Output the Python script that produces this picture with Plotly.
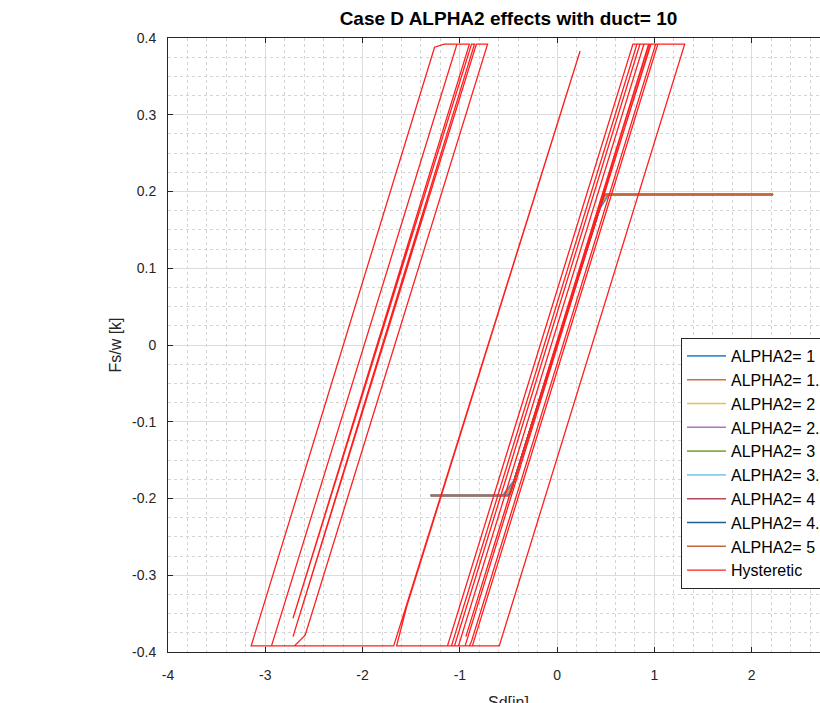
import plotly.graph_objects as go

# ---------------- data ----------------
x_tick_vals = [-4, -3, -2, -1, 0, 1, 2, 3]
x_tick_text = ["-4", "-3", "-2", "-1", "0", "1", "2", "3"]
y_tick_vals = [-0.4, -0.3, -0.2, -0.1, 0, 0.1, 0.2, 0.3, 0.4]
y_tick_text = ["-0.4", "-0.3", "-0.2", "-0.1", "0", "0.1", "0.2", "0.3", "0.4"]

alpha_names = ["ALPHA2= 1", "ALPHA2= 1.5", "ALPHA2= 2", "ALPHA2= 2.5", "ALPHA2= 3",
               "ALPHA2= 3.5", "ALPHA2= 4", "ALPHA2= 4.5", "ALPHA2= 5"]
alpha_colors = ["#3d8fd0", "#c8704a", "#e6be4e", "#b070c4", "#86ac48",
                "#8ccbe8", "#b84858", "#1f5f8f", "#c4663e"]

a1_x = [-1.30, -0.56, -0.440, 0.430, 0.53, 2.22]
a1_y = [-0.196, -0.196, -0.176, 0.176, 0.196, 0.196]
a15_x = [-1.30, -0.54, -0.453, 0.443, 0.52, 2.22]
a15_y = [-0.196, -0.196, -0.181, 0.181, 0.196, 0.196]
a2_x = [-1.30, -0.53, -0.463, 0.453, 0.51, 2.22]
a2_y = [-0.196, -0.196, -0.185, 0.185, 0.196, 0.196]
a25_x = [-1.30, -0.52, -0.470, 0.460, 0.50, 2.22]
a25_y = [-0.196, -0.196, -0.188, 0.188, 0.196, 0.196]
a3_x = [-1.30, -0.51, -0.475, 0.465, 0.50, 2.22]
a3_y = [-0.196, -0.196, -0.190, 0.190, 0.196, 0.196]
a35_x = [-1.30, -0.505, -0.480, 0.470, 0.495, 2.22]
a35_y = [-0.196, -0.196, -0.192, 0.192, 0.196, 0.196]
a4_x = [-1.30, -0.50, -0.483, 0.473, 0.49, 2.22]
a4_y = [-0.196, -0.196, -0.193, 0.193, 0.196, 0.196]
a45_x = [-1.30, -0.495, -0.485, 0.475, 0.485, 2.22]
a45_y = [-0.196, -0.196, -0.194, 0.194, 0.196, 0.196]
a5_x = [-1.30, -0.49, -0.49, 0.48, 0.48, 2.22]
a5_y = [-0.196, -0.196, -0.196, 0.196, 0.196, 0.196]

alpha_x = [a1_x, a15_x, a2_x, a25_x, a3_x, a35_x, a4_x, a45_x, a5_x]
alpha_y = [a1_y, a15_y, a2_y, a25_y, a3_y, a35_y, a4_y, a45_y, a5_y]

hyst_x = [-0.490, 0.965, 1.311, -0.595, -0.902, -0.880, 1.013, 1.035, -0.871, -1.014,
          0.892, 0.940, -0.938, 0.945, 0.960, -0.946, -1.055, 0.851, 0.892, -1.014,
          -1.086, 0.820, 0.851, -1.055, -1.127, 0.779, 0.820, -1.086, -1.650, -1.547,
          0.236, -1.680, -3.145, -1.260, -1.160, -1.030, -2.936, -1.030, -0.902, -2.715,
          -0.880, -0.850, -2.715, -0.830, -0.715, -2.590, -2.700]
hyst_y = [-0.196, 0.392, 0.392, -0.392, -0.392, -0.386, 0.392, 0.392, -0.392, -0.392,
          0.392, 0.392, -0.380, 0.392, 0.392, -0.392, -0.392, 0.392, 0.392, -0.392,
          -0.392, 0.392, 0.392, -0.392, -0.392, 0.392, 0.392, -0.392, -0.392, -0.341,
          0.383, -0.392, -0.392, 0.388, 0.392, 0.392, -0.392, 0.392, 0.392, -0.356,
          0.392, 0.392, -0.380, 0.392, 0.392, -0.378, -0.392]

# ---------------- figure ----------------
FONT = "Liberation Sans, Arial, sans-serif"
fig = go.Figure()
for i, name in enumerate(alpha_names):
    fig.add_trace(go.Scatter(x=alpha_x[i], y=alpha_y[i], mode="lines", name=name,
                             legendgroup=name,
                             line=dict(color=alpha_colors[i], width=1.6)))
fig.add_trace(go.Scatter(x=hyst_x, y=hyst_y, mode="lines", name="Hysteretic",
                         legendgroup="Hysteretic",
                         line=dict(color="#ff1e1e", width=1.3)))

W, H = 860, 715
axis_common = dict(
    showline=True, linecolor="#262626", linewidth=1, mirror="ticks",
    ticks="inside", ticklen=5, tickcolor="#262626",
    showgrid=True, gridcolor="#dcdcdc", gridwidth=1, zeroline=False,
    tickfont=dict(family=FONT, size=14, color="#262626"),
    automargin=False, tickmode="array",
)
fig.update_layout(
    width=W, height=H,
    margin=dict(l=168, r=11, t=38, b=63),
    paper_bgcolor="white", plot_bgcolor="white",
    font=dict(family=FONT, color="#262626"),
    title=dict(text="<b>Case D ALPHA2 effects with duct= 10</b>",
               x=0.5, xref="paper", xanchor="center",
               y=1 - 18 / H, yref="container", yanchor="middle",
               font=dict(family=FONT, size=19, color="#000000")),
    xaxis=dict(axis_common, range=[-4, 3], tickvals=x_tick_vals, ticktext=x_tick_text,
               ticklabelstandoff=10,
               minor=dict(tickmode="linear", tick0=-4, dtick=0.2, showgrid=True,
                          gridcolor="#d4d4d4", griddash="dot", gridwidth=1),
               title=dict(text="Sd[in]", font=dict(family=FONT, size=16, color="#262626"),
                          standoff=15)),
    yaxis=dict(axis_common, range=[-0.4, 0.4], tickvals=y_tick_vals, ticktext=y_tick_text,
               ticklabelstandoff=8,
               minor=dict(tickmode="linear", tick0=-0.4, dtick=0.025, showgrid=True,
                          gridcolor="#d4d4d4", griddash="dot", gridwidth=1),
               title=dict(text="Fs/w [k]", font=dict(family=FONT, size=16, color="#262626"),
                          standoff=6)),
    legend=dict(x=(681 - 168) / 681, y=(652 - 338) / 614, xanchor="left", yanchor="top",
                bgcolor="white", bordercolor="#262626", borderwidth=1,
                font=dict(family=FONT, size=16, color="#000000"),
                itemwidth=39,
                traceorder="grouped", tracegroupgap=0),
    showlegend=True,
)

fig.write_html("out.html",
               post_script="document.documentElement.style.overflow='hidden';"
                           "document.body.style.overflow='hidden';"
                           "document.body.style.margin='0';")
